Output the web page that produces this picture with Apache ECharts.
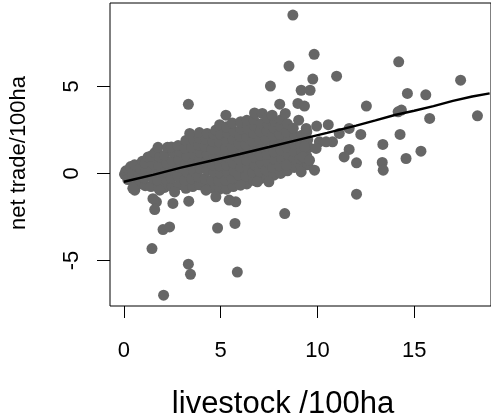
<!DOCTYPE html>
<html>
<head>
<meta charset="utf-8">
<script src="https://cdn.jsdelivr.net/npm/echarts@6/dist/echarts.min.js"></script>
<style>
  html, body { margin: 0; padding: 0; background: #fff; }
  #chart { width: 491px; height: 419px; }
</style>
</head>
<body>
<div id="chart"></div>
<script>
// livestock /100ha vs net trade/100ha
var denseCloud = [
  [0.03,-0.05],[0.1,0.15],
  [0.2,-0.35],[0.25,0.2],[0.35,0.4],
  [0.5,-0.5],[0.45,0.0],[0.55,0.5],
  [0.8,-0.6],[0.75,-0.15],[0.85,0.3],[0.95,0.7],
  [1.1,-0.7],[1.05,-0.25],[1.15,0.2],[1.1,0.6],[1.25,0.95],
  [1.4,-0.75],[1.5,-0.3],[1.45,0.15],[1.5,0.55],[1.4,1.0],[1.6,1.2],
  [1.8,-0.85],[1.75,-0.4],[1.85,0.05],[1.8,0.5],[1.85,0.95],[1.76,1.5],
  [2.1,-0.8],[2.2,-0.35],[2.15,0.1],[2.2,0.6],[2.1,1.05],[2.25,1.5],
  [2.5,-0.75],[2.45,-0.25],[2.55,0.2],[2.5,0.7],[2.55,1.2],[2.45,1.52],
  [2.85,-0.65],[2.8,-0.15],[2.9,0.35],[2.85,0.8],[2.9,1.25],[2.8,1.6],
  [3.2,-0.85],[3.15,-0.4],[3.25,0.1],[3.2,0.55],[3.25,1.0],[3.15,1.45],[3.2,1.9],
  [3.55,-0.75],[3.5,-0.3],[3.6,0.15],[3.55,0.65],[3.6,1.1],[3.5,1.5],[3.6,1.95],[3.4,2.3],
  [3.9,-0.65],[3.85,-0.2],[3.95,0.3],[3.9,0.75],[3.95,1.2],[3.85,1.65],[3.9,2.05],[3.9,2.35],
  [4.25,-0.75],[4.2,-0.3],[4.3,0.2],[4.25,0.65],[4.3,1.1],[4.2,1.55],[4.25,1.95],[4.3,2.3],
  [4.6,-0.85],[4.55,-0.4],[4.65,0.05],[4.6,0.5],[4.65,0.95],[4.55,1.4],[4.6,1.85],[4.65,2.25],[4.75,2.5],
  [4.95,-0.9],[4.9,-0.45],[5.0,0.0],[4.95,0.45],[5.0,0.9],[4.9,1.35],[4.95,1.8],[5.0,2.25],[4.95,2.8],
  [5.3,-0.9],[5.25,-0.4],[5.35,0.05],[5.3,0.5],[5.35,0.95],[5.25,1.4],[5.3,1.85],[5.35,2.3],[5.3,2.68],[5.27,3.35],
  [5.65,-0.75],[5.6,-0.3],[5.7,0.15],[5.65,0.6],[5.7,1.05],[5.6,1.5],[5.65,1.95],[5.7,2.4],[5.6,2.9],
  [6.0,-0.55],[5.95,-0.1],[6.05,0.35],[6.0,0.8],[6.05,1.25],[5.95,1.7],[6.0,2.15],[6.05,2.55],[6.03,2.97],
  [6.35,-0.6],[6.3,-0.15],[6.4,0.3],[6.35,0.75],[6.4,1.2],[6.3,1.65],[6.35,2.1],[6.4,2.55],[6.35,3.05],
  [6.7,-0.4],[6.65,0.05],[6.75,0.5],[6.7,0.95],[6.75,1.4],[6.65,1.85],[6.7,2.3],[6.75,2.75],[6.7,3.1],[6.75,3.48],
  [7.05,-0.3],[7.0,0.15],[7.1,0.6],[7.05,1.05],[7.1,1.5],[7.0,1.95],[7.05,2.4],[7.1,2.85],[7.15,3.45],
  [7.4,-0.25],[7.35,0.2],[7.45,0.65],[7.4,1.1],[7.45,1.55],[7.35,2.0],[7.4,2.45],[7.45,2.85],[7.4,3.2],
  [7.75,-0.1],[7.7,0.35],[7.8,0.8],[7.75,1.25],[7.8,1.7],[7.7,2.15],[7.75,2.6],[7.8,3.0],[7.66,3.35],
  [8.1,0.0],[8.05,0.45],[8.15,0.9],[8.1,1.35],[8.15,1.8],[8.05,2.25],[8.1,2.7],[8.15,3.1],[8.34,3.45],
  [8.45,0.15],[8.4,0.6],[8.5,1.05],[8.45,1.5],[8.5,1.95],[8.4,2.4],[8.45,2.85],
  [8.8,0.35],[8.75,0.8],[8.85,1.25],[8.8,1.7],[8.85,2.15],[8.75,2.6],
  [9.15,0.4],[9.1,0.85],[9.2,1.3],[9.15,1.75],[9.2,2.2],
  [9.5,0.5],[9.45,1.0],[9.55,1.5],[9.5,1.95]
];

var outliers = [
  [0.56,-0.96],[0.46,-0.85],[1.85,-0.96],[1.68,-1.63],[1.59,-2.07],[1.5,-1.45],
  [2.53,-1.72],[3.35,-1.59],[2.62,-1.06],[4.24,-0.96],[4.75,-1.34],[5.78,-1.63],
  [5.44,-1.53],[2.02,-3.22],[2.36,-3.07],[4.84,-3.13],[5.74,-2.87],[1.45,-4.31],
  [3.33,-5.21],[3.44,-5.79],[5.86,-5.66],[2.05,-6.99],[6.03,-0.67],[6.89,-0.48],
  [7.49,-0.48],[8.31,-2.3],[12.02,-1.19],
  [3.33,3.97],[8.73,9.1],[9.83,6.84],[8.53,6.17],[14.2,6.41],[9.76,5.42],[10.99,5.59],
  [7.57,5.02],[17.4,5.36],[9.16,4.78],[9.62,4.78],[14.65,4.6],[15.6,4.52],[8.99,4.02],
  [9.33,3.87],[12.53,3.87],[8.05,3.98],[14.34,3.64],[14.17,3.54],[18.27,3.31],[15.8,3.16],
  [9.03,3.06],[9.96,2.72],[10.56,2.8],[11.64,2.59],[11.13,2.3],[12.24,2.24],[14.27,2.24],
  [13.38,1.67],[10.78,1.82],[15.35,1.28],[11.64,1.38],[11.38,0.95],[14.58,0.86],[12.02,0.61],
  [13.35,0.63],[13.4,0.19],[9.45,2.39],[9.42,2.59],[10.1,1.82],[10.45,1.82],[9.93,1.44],
  [9.33,1.53],[9.25,0.95],[9.59,0.76],[9.85,0.19],[9.16,0.09],[8.39,0.48]
];

// smoothed trend line
var trendX = [0, 1.5, 3, 4.5, 6, 7.5, 9, 10.5, 12, 13, 14, 15, 16, 17, 18, 18.9];
var trendY = [-0.48, -0.08, 0.35, 0.73, 1.12, 1.52, 1.93, 2.33, 2.75, 3.05, 3.36, 3.6, 3.87, 4.17, 4.42, 4.6];

var xTicks = [0, 5, 10, 15];
var yTicks = [-5, 0, 5];

var FONT = '"Liberation Sans", Arial, Helvetica, sans-serif';

var chart = echarts.init(document.getElementById('chart'));

var trend = [];
for (var i = 0; i < trendX.length; i++) {
  trend.push([trendX[i], trendY[i]]);
}

var option = {
  animation: false,
  grid: {
    left: 110, top: 3, right: -3, bottom: 113,
    show: true, borderColor: '#000', borderWidth: 1, backgroundColor: 'transparent'
  },
  xAxis: {
    type: 'value',
    min: -0.72, max: 18.97,
    axisLine: { show: false, onZero: false },
    splitLine: { show: false },
    axisTick: { customValues: xTicks, length: 12, lineStyle: { color: '#000', width: 1 } },
    axisLabel: { customValues: xTicks, margin: 34, fontSize: 22, color: '#000', fontFamily: FONT }
  },
  yAxis: {
    type: 'value',
    min: -7.61, max: 9.79,
    axisLine: { show: false, onZero: false },
    splitLine: { show: false },
    axisTick: { customValues: yTicks, length: 13, lineStyle: { color: '#000', width: 1 } },
    axisLabel: { customValues: yTicks, rotate: 90, margin: 27, fontSize: 22, color: '#000', fontFamily: FONT }
  },
  series: [
    {
      type: 'scatter',
      data: denseCloud.concat(outliers),
      symbolSize: 11,
      itemStyle: { color: '#666666', opacity: 1 },
      emphasis: { disabled: true },
      z: 2
    },
    {
      type: 'line',
      data: trend,
      showSymbol: false,
      lineStyle: { color: '#000', width: 2.5 },
      emphasis: { disabled: true },
      z: 3
    }
  ],
  graphic: [
    {
      type: 'text', x: 283, y: 404,
      style: {
        text: 'livestock /100ha', font: '31px ' + FONT, fill: '#000',
        align: 'center', verticalAlign: 'middle', textAlign: 'center', textVerticalAlign: 'middle'
      }
    },
    {
      type: 'text', x: 19, y: 153, rotation: Math.PI / 2,
      style: {
        text: 'net trade/100ha', font: '22px ' + FONT, fill: '#000',
        align: 'center', verticalAlign: 'middle', textAlign: 'center', textVerticalAlign: 'middle'
      }
    }
  ]
};

chart.setOption(option);
</script>
</body>
</html>
